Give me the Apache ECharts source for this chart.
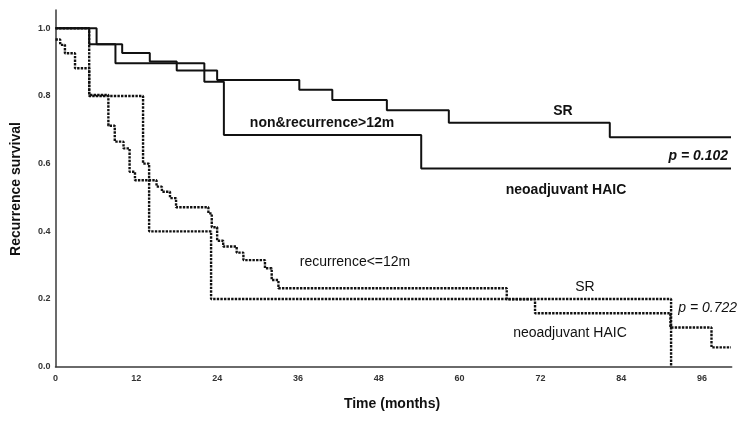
<!DOCTYPE html>
<html style="height: 100%">

<head>
	<meta charset="utf-8">
</head>

<body style="height: 100%; margin: 0">
	<div id="container" style="width: 744px; height: 422px;"></div>
	<script type="text/javascript" src="https://cdn.jsdelivr.net/npm/echarts@6/dist/echarts.min.js"></script>
	<script type="text/javascript">
		// non&recurrence>12m, SR
		let lateSrTime = [0, 5.0, 9.9, 14.0, 18.0, 24.0, 36.2, 41.1, 49.2, 58.4, 82.3, 100.3];
		let lateSrSurv = [1.0, 0.953, 0.927, 0.902, 0.875, 0.847, 0.818, 0.788, 0.758, 0.721, 0.678, 0.678];
		// non&recurrence>12m, neoadjuvant HAIC
		let lateHaicTime = [0, 6.1, 8.9, 22.1, 25.0, 54.3, 100.3];
		let lateHaicSurv = [1.0, 0.953, 0.897, 0.842, 0.685, 0.586, 0.586];
		// recurrence<=12m, SR
		let earlySrTime = [0, 5.0, 13.0, 13.9, 23.1, 91.4];
		let earlySrSurv = [1.0, 0.8, 0.6, 0.4, 0.2, 0.0];
		// recurrence<=12m, neoadjuvant HAIC
		let earlyHaicTime = [0, 0.7, 1.4, 2.9, 5.0, 7.85, 8.8, 10.1, 11.0, 11.8, 15.0, 15.8, 17.0, 17.9, 22.7, 23.2, 24.0, 24.9, 26.9, 27.9, 31.1, 32.1, 33.1, 40.2, 67.0, 71.2, 91.3, 97.4, 100.3];
		let earlyHaicSurv = [0.967, 0.951, 0.926, 0.882, 0.803, 0.712, 0.665, 0.645, 0.576, 0.551, 0.532, 0.517, 0.498, 0.471, 0.453, 0.412, 0.372, 0.355, 0.337, 0.315, 0.291, 0.256, 0.232, 0.232, 0.199, 0.158, 0.116, 0.057, 0.057];

		let xTicks = [0, 12, 24, 36, 48, 60, 72, 84, 96];
		let yTicks = [0.0, 0.2, 0.4, 0.6, 0.8, 1.0];

		let dom = document.getElementById("container");
		let myChart = echarts.init(dom);
		let font = 'Liberation Sans, Arial, sans-serif';

		function pairs(t, s) {
			let out = [];
			for (let i in t) {
				out.push([t[i], s[i]]);
			}
			return out;
		}

		function kmSeries(name, t, s, dotted) {
			return {
				name: name,
				type: 'line',
				step: 'end',
				symbol: 'none',
				silent: true,
				lineStyle: {
					color: '#111',
					width: dotted ? 2.4 : 2,
					type: dotted ? [2.4, 1.2] : 'solid'
				},
				data: pairs(t, s)
			};
		}

		function label(text, x, y, opts) {
			return {
				type: 'text',
				x: x,
				y: y,
				rotation: opts.rotation || 0,
				style: {
					text: text,
					fill: '#111',
					font: (opts.italic ? 'italic ' : '') + (opts.bold ? 'bold ' : '') + '14px ' + font,
					align: opts.align || 'center',
					verticalAlign: 'middle'
				}
			};
		}

		let option = {
			animation: false,
			backgroundColor: '#fff',
			grid: {
				left: 55.5,
				right: 12.3,
				top: 10,
				bottom: 55.3
			},
			xAxis: {
				type: 'value',
				min: 0,
				max: 100.4,
				interval: 12,
				splitLine: { show: false },
				axisTick: { show: false },
				axisLine: { lineStyle: { color: '#3a3a3a', width: 1.5 } },
				axisLabel: {
					margin: 7,
					fontSize: 9,
					fontWeight: 'bold',
					color: '#333',
					fontFamily: font,
					showMaxLabel: false,
					formatter: function (v) { return xTicks.indexOf(v) >= 0 ? String(v) : ''; }
				}
			},
			yAxis: {
				type: 'value',
				min: 0,
				max: 1.054,
				interval: 0.2,
				splitLine: { show: false },
				axisTick: { show: false },
				axisLine: { show: true, lineStyle: { color: '#3a3a3a', width: 1.5 } },
				axisLabel: {
					margin: 5,
					fontSize: 9,
					fontWeight: 'bold',
					color: '#333',
					fontFamily: font,
					showMaxLabel: false,
					formatter: function (v) {
						for (let k in yTicks) {
							if (Math.abs(yTicks[k] - v) < 1e-6) return yTicks[k].toFixed(1);
						}
						return '';
					}
				}
			},
			graphic: [
				label('Recurrence survival', 16, 189, { bold: true, rotation: Math.PI / 2 }),
				label('Time (months)', 392, 404, { bold: true }),
				label('non&recurrence>12m', 322, 123, { bold: true }),
				label('SR', 563, 111, { bold: true }),
				label('p = 0.102', 728, 156, { bold: true, italic: true, align: 'right' }),
				label('neoadjuvant HAIC', 566, 190, { bold: true }),
				label('recurrence<=12m', 355, 262, {}),
				label('SR', 585, 287, {}),
				label('p = 0.722', 737, 308, { italic: true, align: 'right' }),
				label('neoadjuvant HAIC', 570, 333, {})
			],
			series: [
				kmSeries('SR (>12m)', lateSrTime, lateSrSurv, false),
				kmSeries('neoadjuvant HAIC (>12m)', lateHaicTime, lateHaicSurv, false),
				kmSeries('SR (<=12m)', earlySrTime, earlySrSurv, true),
				kmSeries('neoadjuvant HAIC (<=12m)', earlyHaicTime, earlyHaicSurv, true)
			]
		};

		myChart.setOption(option);
	</script>
</body>
</html>
